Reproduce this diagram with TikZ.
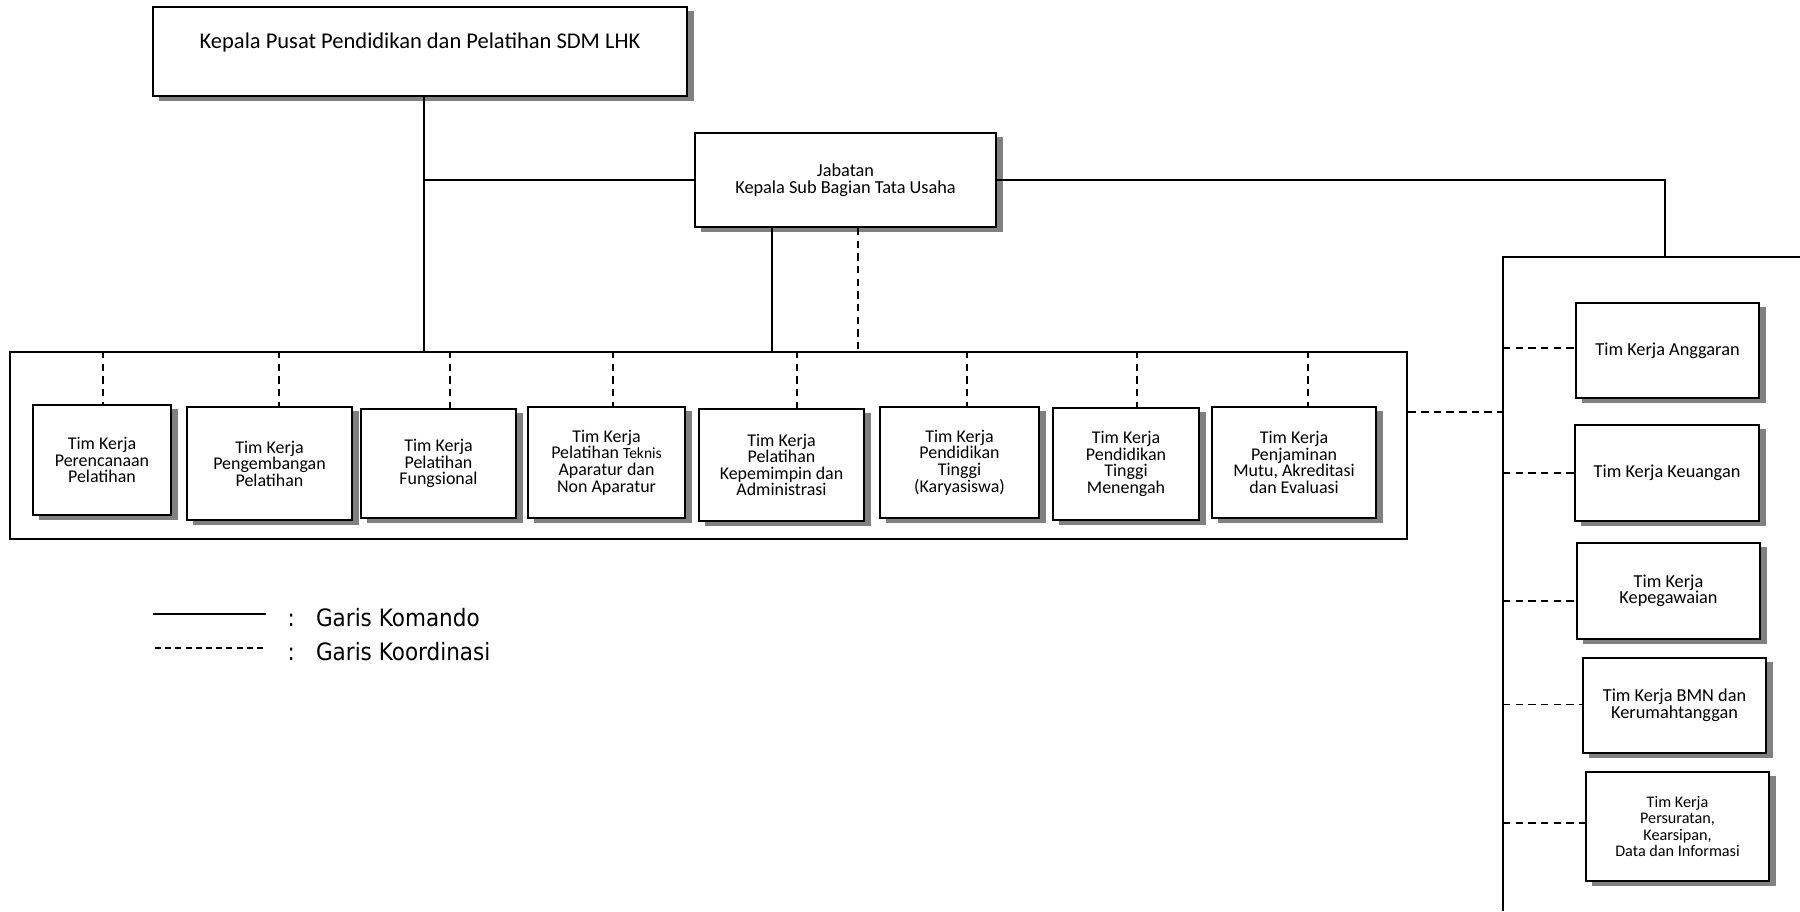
\documentclass[tikz,border=0pt]{standalone}
\usepackage{fontspec}
\setmainfont{Carlito}
\newfontfamily\legendfont[FakeStretch=0.9]{DejaVu Sans}
\usetikzlibrary{shadows}

\begin{document}
\begin{tikzpicture}[
    x=0.01cm, y=-0.01cm,
    kotak/.style={draw, fill=white, line width=0.6pt, align=center, inner sep=1pt,
        drop shadow={shadow xshift=0.065cm, shadow yshift=-0.045cm, fill=black!50, opacity=1},
        font=\fontsize{5.1}{4.7}\selectfont},
    bingkai/.style={draw, line width=0.6pt, inner sep=0pt},
    komando/.style={line width=0.55pt},
    koord/.style={line width=0.55pt, dash pattern=on 2.1pt off 1.5pt},
    ket/.style={font=\legendfont\fontsize{6.8}{7.8}\selectfont, anchor=west, inner sep=0pt}
]
\useasboundingbox (0,0) rectangle (1800,911);

% Pimpinan dan sub bagian
\node[kotak, minimum width=5.34cm, minimum height=0.89cm, font=\fontsize{6.4}{7}\selectfont, text depth=6pt] (kepala) at (420,51.5) {Kepala Pusat Pendidikan dan Pelatihan SDM LHK};
\node[kotak, minimum width=3.01cm, minimum height=0.94cm, font=\fontsize{5.2}{4.9}\selectfont] (jabatan) at (845.5,180) {Jabatan\\Kepala Sub Bagian Tata Usaha};

% Wadah tim kerja (bawah)
\node[bingkai, minimum width=13.97cm, minimum height=1.87cm] (grpA) at (708.5,445.5) {};

\node[kotak, minimum width=1.38cm, minimum height=1.10cm] (t1) at (102,460) {Tim Kerja\\Perencanaan\\Pelatihan};
\node[kotak, minimum width=1.65cm, minimum height=1.13cm] (t2) at (269.5,463.5) {Tim Kerja\\Pengembangan\\Pelatihan};
\node[kotak, minimum width=1.55cm, minimum height=1.09cm] (t3) at (438.5,463.5) {Tim Kerja\\Pelatihan\\Fungsional};
\node[kotak, minimum width=1.57cm, minimum height=1.11cm] (t4) at (606.5,462.5) {Tim Kerja\\Pelatihan {\fontsize{4.4}{4.7}\selectfont Teknis}\\Aparatur dan\\Non Aparatur};
\node[kotak, minimum width=1.65cm, minimum height=1.12cm] (t5) at (781.5,465) {Tim Kerja\\Pelatihan\\Kepemimpin dan\\Administrasi};
\node[kotak, minimum width=1.59cm, minimum height=1.11cm] (t6) at (959.5,462.5) {Tim Kerja\\Pendidikan\\Tinggi\\(Karyasiswa)};
\node[kotak, minimum width=1.46cm, minimum height=1.12cm] (t7) at (1126,464) {Tim Kerja\\Pendidikan\\Tinggi\\Menengah};
\node[kotak, minimum width=1.64cm, minimum height=1.11cm] (t8) at (1294,462.5) {Tim Kerja\\Penjaminan\\Mutu, Akreditasi\\dan Evaluasi};

% Wadah tim kerja (kanan)
\coordinate (sekTop) at (1800,257);
\coordinate (sekBot) at (1503,911);
\coordinate (sekL) at (1503,257);
\coordinate (sekJ) at (1665,257);
\draw[komando] (sekTop) -| (sekBot);

\node[kotak, minimum width=1.83cm, minimum height=0.95cm, font=\fontsize{5.2}{4.7}\selectfont] (r1) at (1667.5,350.5) {Tim Kerja Anggaran};
\node[kotak, minimum width=1.84cm, minimum height=0.96cm, font=\fontsize{5.2}{4.7}\selectfont] (r2) at (1667,473) {Tim Kerja Keuangan};
\node[kotak, minimum width=1.83cm, minimum height=0.96cm, font=\fontsize{5.2}{4.6}\selectfont] (r3) at (1668.5,591) {Tim Kerja\\Kepegawaian};
\node[kotak, minimum width=1.83cm, minimum height=0.95cm, font=\fontsize{5.2}{4.8}\selectfont] (r4) at (1674.5,705.5) {Tim Kerja BMN dan\\Kerumahtanggan};
\node[kotak, minimum width=1.83cm, minimum height=1.09cm, font=\fontsize{4.6}{4.7}\selectfont] (r5) at (1677.5,826.5) {Tim Kerja\\Persuratan,\\Kearsipan,\\Data dan Informasi};

% Garis komando
\coordinate (kp) at ([xshift=0.04cm]kepala.south);
\draw[komando] (kp) -- (kp |- grpA.north);
\draw[komando] (jabatan.west) -- (jabatan.west -| kp);
\draw[komando] (jabatan.east) -| (sekJ);
\draw[komando] ([xshift=-0.735cm]jabatan.south) -- ([xshift=-0.735cm]jabatan.south |- grpA.north);

% Garis koordinasi
\draw[koord] ([xshift=0.125cm]jabatan.south) -- ([xshift=0.125cm]jabatan.south |- grpA.north);
\foreach \n/\x in {t1/103, t2/279, t3/450, t4/613, t5/797, t6/967, t7/1137, t8/1308}
    \draw[koord] (grpA.north -| \x,0) -- (\n.north -| \x,0);
\draw[koord] ([yshift=0.335cm]grpA.east) -- ([yshift=0.335cm]grpA.east -| sekL);
\foreach \n/\dy in {r1/0.025, r2/0, r3/-0.1, r4/0.01, r5/0.035}
    \draw[koord] ([yshift=\dy cm]\n.west -| sekL) -- ([yshift=\dy cm]\n.west);

% Keterangan
\coordinate (lk1) at (153,614);
\coordinate (lk2) at (266,614);
\coordinate (lo1) at (155,648);
\coordinate (lo2) at (266,648);
\draw[line width=0.4pt] (lk1) -- (lk2);
\draw[line width=0.4pt, dash pattern=on 1.7pt off 1.2pt] (lo1) -- (lo2);
\node[ket] (ketKom) at (287,618) {:\hspace{6pt}Garis Komando};
\node[ket] (ketKoo) at (287,652) {:\hspace{6pt}Garis Koordinasi};

\end{tikzpicture}
\end{document}
